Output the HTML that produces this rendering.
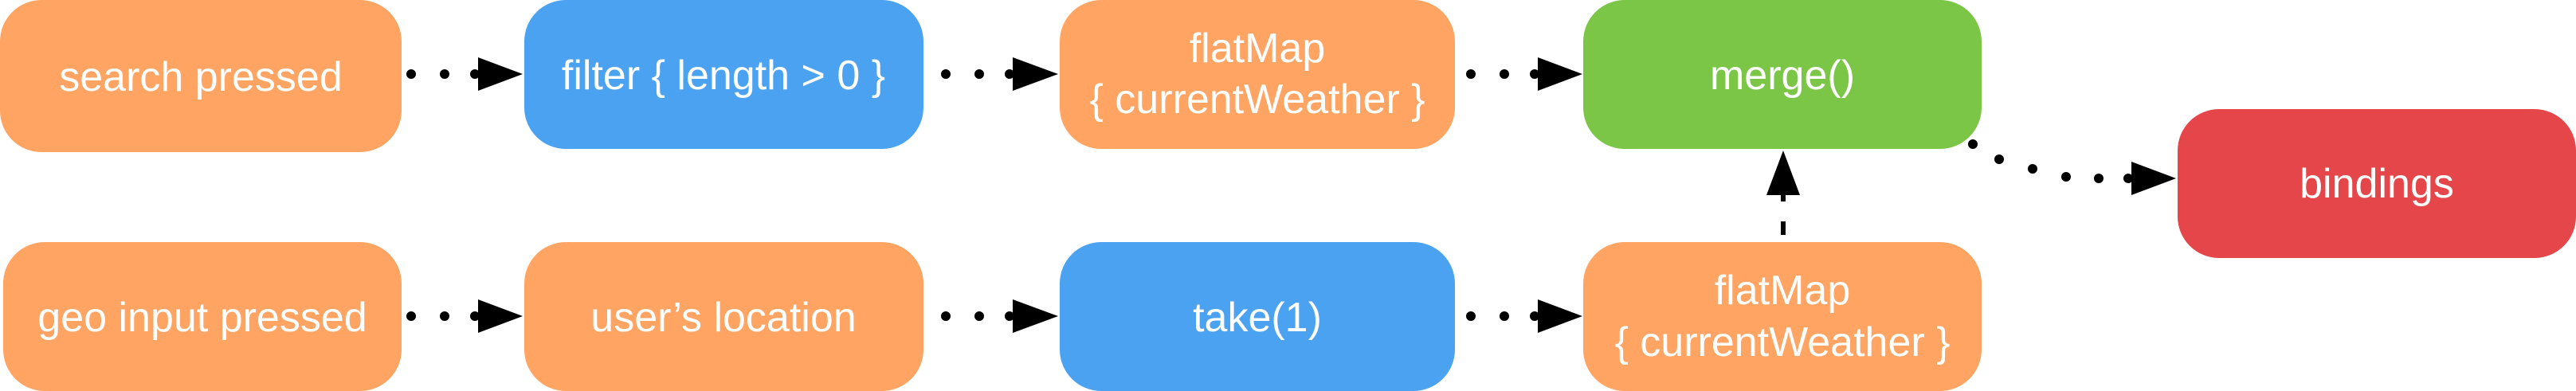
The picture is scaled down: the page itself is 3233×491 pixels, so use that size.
<!DOCTYPE html>
<html><head><meta charset="utf-8"><style>
html,body{margin:0;padding:0;background:#fff;width:3233px;height:491px;overflow:hidden}
svg text{font-family:"Liberation Sans",sans-serif;fill:#fff;font-size:52px;text-anchor:middle}
</style></head><body>
<svg width="3233" height="491" viewBox="0 0 3233 491">
<g><rect x="0" y="0" width="504" height="191" rx="52" fill="#FFA462"/><text x="252" y="114">search pressed</text></g>
<g><rect x="658" y="0" width="501" height="187" rx="52" fill="#4AA2F1"/><text x="908" y="112">filter { length &gt; 0 }</text></g>
<g><rect x="1330" y="0" width="496" height="187" rx="52" fill="#FFA462"/><text x="1578" y="78">flatMap</text><text x="1578" y="142">{ currentWeather }</text></g>
<g><rect x="1987" y="0" width="500" height="187" rx="52" fill="#7BC647"/><text x="2237" y="112">merge()</text></g>
<g><rect x="2733" y="137" width="500" height="187" rx="52" fill="#E44649"/><text x="2983" y="248">bindings</text></g>
<g><rect x="4" y="304" width="500" height="187" rx="52" fill="#FFA462"/><text x="254" y="416">geo input pressed</text></g>
<g><rect x="658" y="304" width="501" height="187" rx="52" fill="#FFA462"/><text x="908" y="416">user’s location</text></g>
<g><rect x="1330" y="304" width="496" height="187" rx="52" fill="#4AA2F1"/><text x="1578" y="416">take(1)</text></g>
<g><rect x="1987" y="304" width="500" height="187" rx="52" fill="#FFA462"/><text x="2237" y="382">flatMap</text><text x="2237" y="447">{ currentWeather }</text></g>
<g fill="#000">
<g><circle cx="516" cy="93" r="6"/><circle cx="558" cy="93" r="6"/><circle cx="596" cy="93" r="6"/><polygon points="600,72 656,93 600,114"/></g>
<g><circle cx="1187" cy="93" r="6"/><circle cx="1229" cy="93" r="6"/><circle cx="1267" cy="93" r="6"/><polygon points="1271,72 1328,93 1271,114"/></g>
<g><circle cx="1846" cy="93" r="6"/><circle cx="1888" cy="93" r="6"/><circle cx="1926" cy="93" r="6"/><polygon points="1930,72 1986,93 1930,114"/></g>
<g><circle cx="516" cy="397" r="6"/><circle cx="558" cy="397" r="6"/><circle cx="596" cy="397" r="6"/><polygon points="600,376 656,397 600,418"/></g>
<g><circle cx="1187" cy="397" r="6"/><circle cx="1229" cy="397" r="6"/><circle cx="1267" cy="397" r="6"/><polygon points="1271,376 1328,397 1271,418"/></g>
<g><circle cx="1846" cy="397" r="6"/><circle cx="1888" cy="397" r="6"/><circle cx="1926" cy="397" r="6"/><polygon points="1930,376 1986,397 1930,418"/></g>
<g><rect x="2235" y="245" width="6" height="8"/><rect x="2235" y="278" width="6" height="17"/><polygon points="2238,189 2259,245 2217,245"/></g>
<g><circle cx="2476" cy="181" r="6"/><circle cx="2509" cy="200" r="6"/><circle cx="2551" cy="212" r="6"/><circle cx="2593" cy="222" r="6"/><circle cx="2634" cy="224" r="6"/><circle cx="2671" cy="224" r="6"/><polygon points="2675,203 2731,224 2675,245"/></g>
</g>
</svg>
</body></html>
